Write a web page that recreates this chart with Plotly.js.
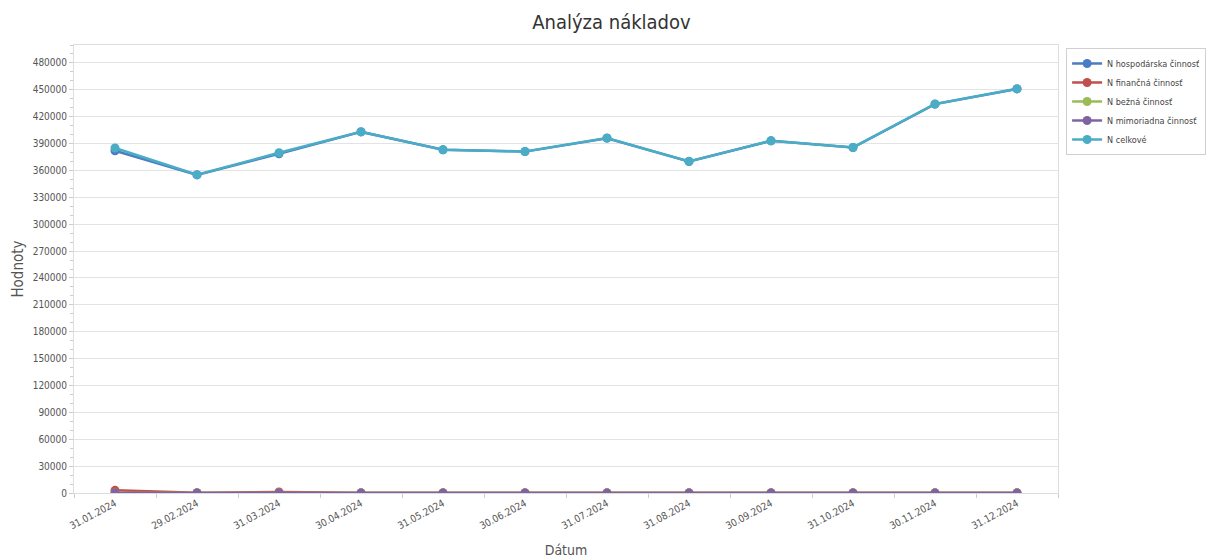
<!DOCTYPE html>
<html>
<head>
<meta charset="utf-8">
<script src="https://cdn.plot.ly/plotly-3.0.1.min.js"></script>
<style>html,body{margin:0;padding:0;background:#fff;}#chart{width:1206px;height:558px;}</style>
</head>
<body>
<div id="chart"></div>
<script>
const dates = ["31.01.2024","29.02.2024","31.03.2024","30.04.2024","31.05.2024","30.06.2024","31.07.2024","31.08.2024","30.09.2024","31.10.2024","30.11.2024","31.12.2024"];
const hospodarska = [382000,355000,378500,403000,383000,381000,396000,370000,393000,385500,434000,451000];
const financna = [3000,300,1200,200,150,150,150,150,150,150,150,150];
const bezna = [0,0,0,0,0,0,0,0,0,0,0,0];
const mimoriadna = [0,0,0,0,0,0,0,0,0,0,0,0];
const celkove = [385000,355300,379700,403200,383150,381150,396150,370150,393150,385650,434150,451150];

const seriesNames = ["N hospodárska činnosť","N finančná činnosť","N bežná činnosť","N mimoriadna činnosť","N celkové"];
const seriesColors = ["#4a7cc4","#c0504d","#9bbb59","#8064a2","#4bacc6"];
const seriesData = [hospodarska, financna, bezna, mimoriadna, celkove];

const traces = seriesData.map((d,i)=>({
  x: dates, y: d, name: seriesNames[i], type: "scatter", mode: "lines+markers",
  line: {color: seriesColors[i], width: 2.5},
  marker: {color: seriesColors[i], size: 9}
}));

const layout = {
  width: 1206, height: 558,
  paper_bgcolor: "#fff", plot_bgcolor: "#fff",
  margin: {l: 74, r: 148, t: 45, b: 65},
  font: {family: "DejaVu Sans Condensed, DejaVu Sans, sans-serif", color: "#555"},
  title: {text: "Analýza nákladov", font: {size: 20, color: "#333", family: "DejaVu Sans Condensed, sans-serif"}, x: 0.507, xanchor: "center", y: 0.96, yanchor: "middle", xref: "container", yref: "container"},
  xaxis: {
    type: "category", range: [-0.5, 11.5], tickangle: -28,
    tickson: "boundaries", ticks: "outside", ticklen: 4, tickcolor: "#ccc",
    showgrid: false, showline: true, linecolor: "#ddd", mirror: true,
    tickfont: {size: 10, color: "#555"},
    title: {text: "Dátum", font: {size: 14, color: "#555"}, standoff: 14},
    zeroline: false, automargin: false
  },
  yaxis: {
    range: [0, 500000], dtick: 30000, tick0: 0, tickformat: "d",
    ticks: "outside", ticklen: 4, tickcolor: "#ccc",
    minor: {dtick: 10000, ticks: "outside", ticklen: 3, tickcolor: "#ccc", showgrid: false},
    showgrid: true, gridcolor: "#e3e3e3", gridwidth: 1,
    showline: true, linecolor: "#ddd", mirror: true, zeroline: false,
    tickfont: {size: 10, color: "#555"},
    title: {text: "Hodnoty", font: {size: 15, color: "#555"}, standoff: 5},
    automargin: false
  },
  legend: {
    xref: "container", yref: "container",
    x: 0.884, xanchor: "left", y: 0.914, yanchor: "top",
    bordercolor: "#d0d0d0", borderwidth: 1, bgcolor: "#fff",
    font: {size: 9, color: "#444"}, itemwidth: 30, tracegroupgap: 0
  },
  showlegend: true
};

Plotly.newPlot("chart", traces, layout, {displayModeBar: false, staticPlot: true});
</script>
</body>
</html>
